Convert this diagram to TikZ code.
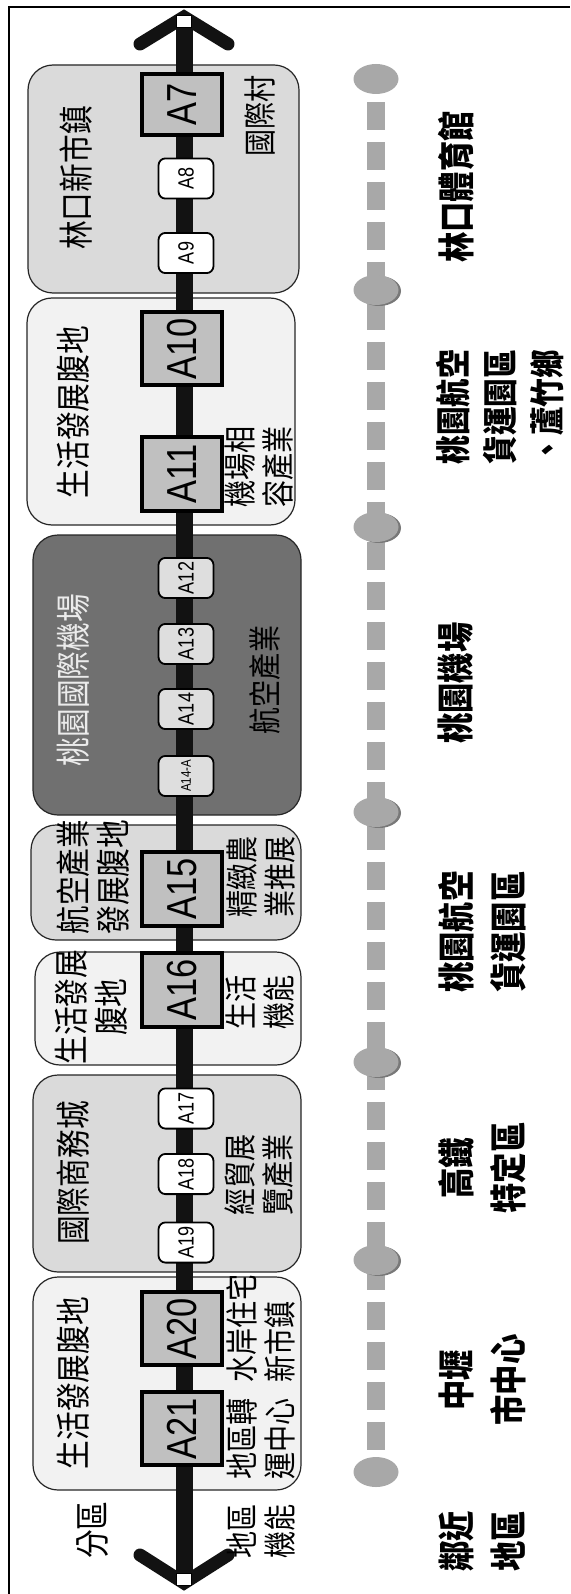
\documentclass[tikz,border=0pt]{standalone}
\usepackage{fontspec}
\newfontfamily\arial{Liberation Sans}
\newfontfamily\cjk{Noto Sans CJK TC}
\usetikzlibrary{shapes.geometric,backgrounds}
\definecolor{zlight}{RGB}{242,242,242}
\definecolor{zmid}{RGB}{218,218,218}
\definecolor{zdark}{RGB}{112,112,112}
\definecolor{stgray}{RGB}{192,192,192}
\definecolor{stlight}{RGB}{222,222,222}
\definecolor{lnk}{RGB}{168,168,168}
\definecolor{lnkd}{RGB}{120,120,120}

\begin{document}
\begin{tikzpicture}[x=1pt,y=-1pt,
  vt/.style={rotate=90,xscale=0.82,inner sep=0pt,align=center},
  ttl/.style={vt,font=\cjk\fontsize{35}{40}\selectfont},
  fnc/.style={vt,font=\cjk\fontsize{33}{38}\selectfont},
  nbr/.style={vt,font=\cjk\bfseries\fontsize{37}{52}\selectfont},
  zone/.style={draw=black!85,line width=1.2pt,rounded corners=25pt},
  bigst/.style={vt,draw,line width=4pt,fill=stgray,minimum height=80pt,minimum width=90pt,font=\arial\fontsize{42}{42}\selectfont},
  smst/.style={vt,draw,line width=1.8pt,fill=white,rounded corners=7pt,minimum height=55pt,minimum width=49pt,font=\arial\fontsize{22}{22}\selectfont},
  dot/.style={ellipse,fill=lnk,minimum width=45pt,minimum height=30pt,inner sep=0pt},
  link/.style={draw=lnk,line width=18pt,dash pattern=on 28pt off 12pt,dash phase=32pt},
  track/.style={draw=black!93,line width=17pt},
  arm/.style={draw=black!93,line width=13pt,line cap=round,line join=miter},
  tipbox/.style={draw,line width=0.6pt,fill=white,minimum width=15pt,minimum height=12pt,inner sep=0pt}]
  \useasboundingbox (0,0) rectangle (570,1594);
  \draw[line width=2pt] (9,1594) -- (9,7) -- (570,7);

  % zones
  \foreach \xa/\ya/\xb/\yb/\c in {28/65/299/293/zmid, 27/298/295/525/zlight, 33/535/301/815/zdark,
      31/825/301/940/zmid, 35/952/301/1065/zlight, 33/1075/301/1272/zmid, 33/1277/301/1490/zlight}
    \draw[zone,fill=\c] (\xa,\ya) rectangle (\xb,\yb);

  % track
  \coordinate (tN) at (184,17);
  \coordinate (tS) at (184,1583);
  \coordinate (aNW) at (140,44); \coordinate (aNE) at (228,44);
  \coordinate (aSW) at (140,1555); \coordinate (aSE) at (228,1555);
  \draw[track] (tN) -- (tS);
  \draw[arm] (aNW) -- (tN) -- (aNE);
  \draw[arm] (aSW) -- (tS) -- (aSE);
  \node[tipbox] (bN) at (184,21) {};
  \node[tipbox] (bS) at (184,1579) {};

  % stations
  \node[bigst,minimum width=74pt] (s7) at (182,104.5) {A7};
  \foreach \n/\y in {10/348.5, 11/474, 15/889, 16/990, 20/1328.5, 21/1428.5}
    \node[bigst] (s\n) at (182,\y) {A\n};
  \foreach \n/\y/\c in {8/178.5/white, 9/253/white, 12/578/stlight, 13/644/stlight, 14/709/stlight,
      17/1108.5/white, 18/1174/white, 19/1242.5/white}
    \node[smst,fill=\c] (s\n) at (186,\y) {A\n};
  \node[smst,fill=stlight,font=\arial\fontsize{14}{14}\selectfont] (s14a) at (186,776) {A14-A};

  % zone names
  \node[ttl] (t1) at (76,178) {林口新市鎮};
  \node[ttl] (t2) at (73,412) {生活發展腹地};
  \node[ttl,text=black!8] (t3) at (73,680) {桃園國際機場};
  \node[ttl] (t4) at (93,877) {航空產業\\發展腹地};
  \node[ttl] (t5) at (91,1007) {生活發展\\腹地};
  \node[ttl] (t6) at (73,1173) {國際商務城};
  \node[ttl] (t7) at (73,1383) {生活發展腹地};
  \node[ttl] (k1) at (93,1530) {分區};

  % functions
  \node[fnc] (f1) at (260,116) {國際村};
  \node[fnc] (f2) at (259,467) {機場相\\容產業};
  \node[fnc] (f3) at (265,680) {航空產業};
  \node[fnc] (f4) at (261,877) {精緻農\\業推展};
  \node[fnc] (f5) at (260,1002) {生活\\機能};
  \node[fnc] (f6) at (259,1175) {經貿展\\覽產業};
  \node[fnc,align=left,anchor=west] (f7a) at (261,1383) {水岸住宅\\新市鎮};
  \node[fnc,align=left,anchor=west] (f7b) at (261,1480) {地區轉\\運中心};
  \node[fnc] (k2) at (261,1531) {地區\\機能};

  % neighbouring areas
  \foreach \y in {290,527,812,1062,1260}
    \fill[lnkd] (379,\y+1) ellipse (22 and 15);
  \foreach \i/\y in {1/79,2/290,3/527,4/812,5/1062,6/1260,7/1472}
    \node[dot] (c\i) at (376,\y) {};
  \node[nbr] (n1) at (456,187) {林口體育館};
  \node[nbr,font=\cjk\bfseries\fontsize{35}{47}\selectfont] (n2) at (500,407) {桃園航空\\貨運園區\\、蘆竹鄉};
  \node[nbr] (n3) at (456,683) {桃園機場};
  \node[nbr] (n4) at (482,932) {桃園航空\\貨運園區};
  \node[nbr] (n5) at (482,1168) {高鐵\\特定區};
  \node[nbr] (n6) at (482,1380) {中壢\\市中心};
  \node[nbr] (k3) at (482,1541) {鄰近\\地區};

  \begin{scope}[on background layer]
    \fill[white] (0,0) rectangle (570,1594);
    \draw[link] (c1) -- (c7);
  \end{scope}
\end{tikzpicture}
\end{document}
